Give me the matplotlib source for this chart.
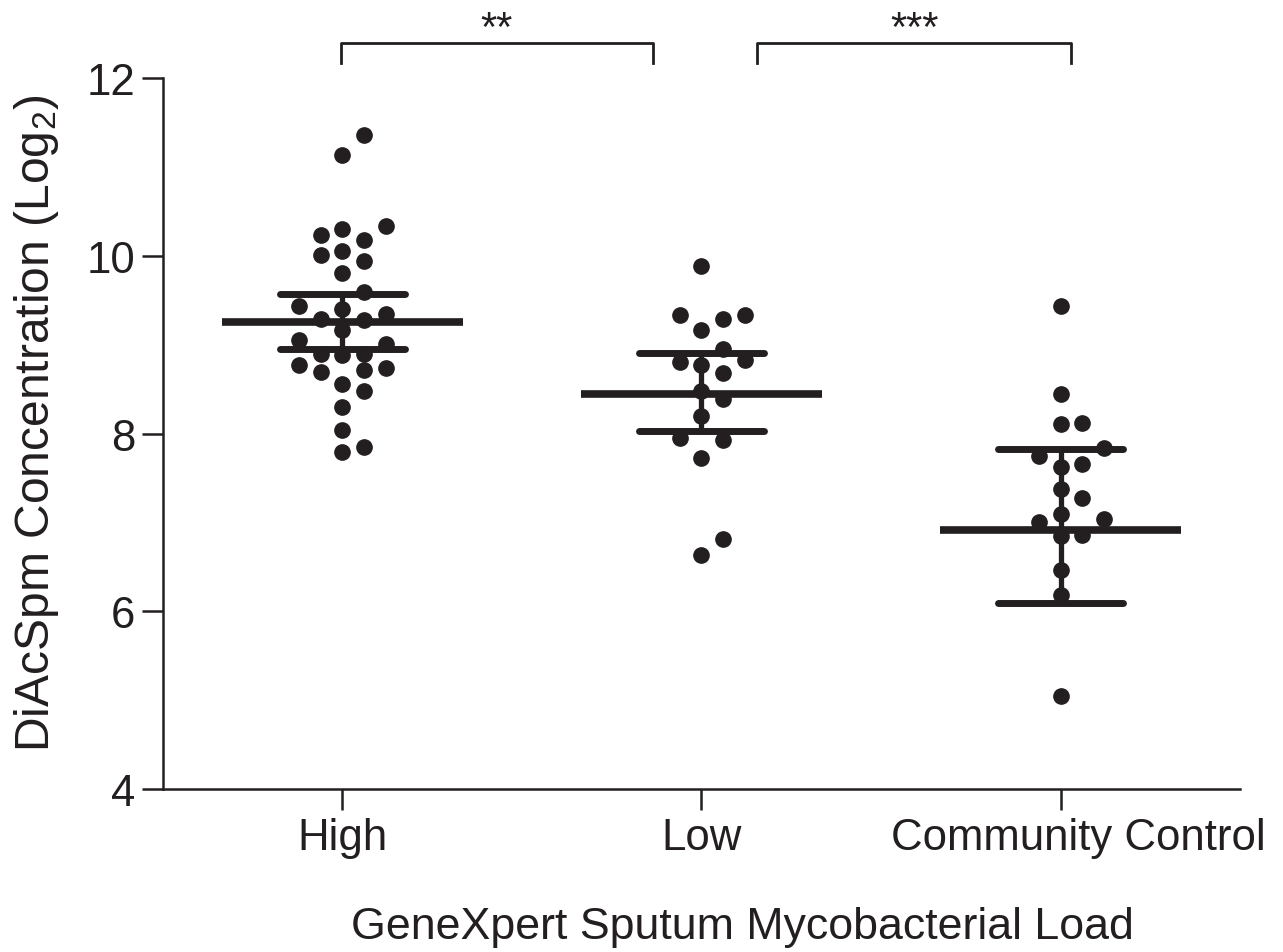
import numpy as np
import matplotlib.pyplot as plt
from matplotlib.transforms import ScaledTranslation

plt.rcParams['font.family'] = ['Liberation Sans', 'DejaVu Sans']
plt.rcParams['mathtext.fontset'] = 'custom'
plt.rcParams['mathtext.rm'] = 'Liberation Sans'
plt.rcParams['mathtext.it'] = 'Liberation Sans:italic'

# data (log2 DiAcSpm)
groups = ["High", "Low", "Community Control"]
high = [11.36, 11.14, 10.34, 10.30, 10.24, 10.18, 10.06, 10.01, 9.94, 9.81,
        9.59, 9.44, 9.40, 9.34, 9.29, 9.28, 9.16, 9.05, 9.01, 8.90, 8.89,
        8.88, 8.77, 8.74, 8.72, 8.69, 8.56, 8.48, 8.30, 8.04, 7.85, 7.79]
low = [9.89, 9.33, 9.33, 9.29, 9.17, 8.95, 8.83, 8.80, 8.77, 8.68, 8.48,
       8.39, 8.20, 7.95, 7.93, 7.73, 6.81, 6.63]
community = [9.43, 8.44, 8.12, 8.11, 7.84, 7.75, 7.66, 7.62, 7.38, 7.28,
             7.10, 7.04, 7.00, 6.86, 6.85, 6.47, 6.18, 5.05]
means = [9.25, 8.45, 6.92]
ci_low = [8.95, 8.03, 6.09]
ci_high = [9.57, 8.91, 7.83]
stars = ["**", "***"]

ink = "#231f20"


def swarm(vals, dy=0.23, step=0.06):
    # simple greedy layout: lowest value first, nearest free column to centre
    vals = np.asarray(vals)
    cols = {}
    off = np.zeros(len(vals))
    for i in np.argsort(vals):
        best, best_d = 0, -1
        for k in [0, 1, -1, 2, -2]:
            taken = cols.get(k, [])
            d = min([abs(vals[i] - v) for v in taken], default=99)
            if d >= dy:
                best = k
                break
            if d > best_d:
                best, best_d = k, d
        cols.setdefault(best, []).append(vals[i])
        off[i] = best * step
    return off


fig = plt.figure(figsize=(12.83, 9.53), dpi=100)
ax = fig.add_axes([0.127, 0.171, 0.8395, 0.746])

for i, vals in enumerate([high, low, community]):
    x = i + swarm(vals)
    ax.plot(x, vals, 'o', color=ink, markersize=11, zorder=3)
    ax.plot([i - 0.336, i + 0.336], [means[i], means[i]], color=ink, lw=5.5,
            solid_capstyle='butt', zorder=4)
    ax.plot([i, i], [ci_low[i], ci_high[i]], color=ink, lw=3.8, zorder=4)
    for yv in (ci_low[i], ci_high[i]):
        ax.plot([i - 0.173, i + 0.173], [yv, yv], color=ink, lw=5,
                solid_capstyle='round', zorder=4)

# significance brackets
spans = [(-0.005, 0.865), (1.155, 2.03)]
for (x0, x1), s in zip(spans, stars):
    ax.plot([x0, x0, x1, x1], [12.17, 12.39, 12.39, 12.17], color=ink, lw=2,
            clip_on=False)
    ax.text((x0 + x1) / 2, 12.33, s, ha='center', va='bottom', fontsize=30,
            color=ink, clip_on=False)

ax.set_xlim(-0.5, 2.5)
ax.set_ylim(4, 12)
ax.set_xticks(range(3))
ax.set_xticklabels(groups)
ax.set_yticks([4, 6, 8, 10, 12])
ax.spines['top'].set_visible(False)
ax.spines['right'].set_visible(False)
for sp in ['left', 'bottom']:
    ax.spines[sp].set_linewidth(1.8)
    ax.spines[sp].set_color(ink)
ax.tick_params(direction='out', length=15, width=1.8, color=ink,
               labelsize=31.5, labelcolor=ink, pad=5)

# last category label sits a little right of its tick in the original
lbl = ax.get_xticklabels()[2]
lbl.set_transform(lbl.get_transform() + ScaledTranslation(0.175, 0, fig.dpi_scale_trans))

ax.set_xlabel("GeneXpert Sputum Mycobacterial Load", fontsize=32.2, color=ink)
ax.xaxis.set_label_coords(0.5376, -0.165)
ax.set_ylabel("DiAcSpm Concentration (Log$_2$)", fontsize=34.6, color=ink)
ax.yaxis.set_label_coords(-0.095, 0.5155)

fig.savefig("out.png", dpi=100)
